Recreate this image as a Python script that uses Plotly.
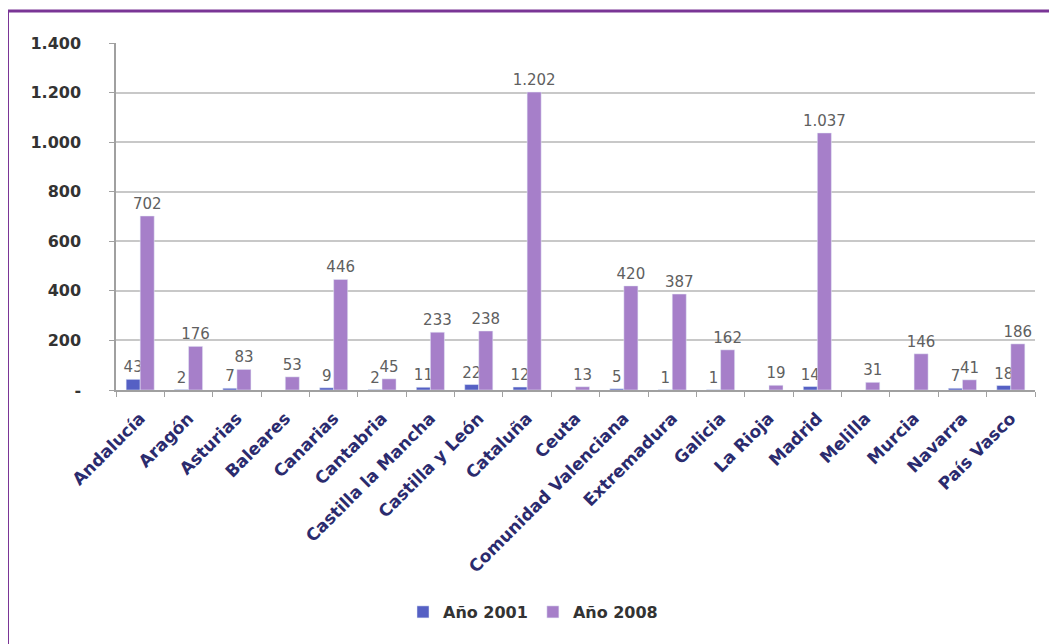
import plotly.graph_objects as go

categories = ["Andalucía", "Aragón", "Asturias", "Baleares", "Canarias", "Cantabria",
              "Castilla la Mancha", "Castilla y León", "Cataluña", "Ceuta",
              "Comunidad Valenciana", "Extremadura", "Galicia", "La Rioja", "Madrid",
              "Melilla", "Murcia", "Navarra", "País Vasco"]
anio_2001 = [43, 2, 7, None, 9, 2, 11, 22, 12, None, 5, 1, 1, None, 14, None, None, 7, 18]
anio_2008 = [702, 176, 83, 53, 446, 45, 233, 238, 1202, 13, 420, 387, 162, 19, 1037, 31, 146, 41, 186]
y_ticks = [0, 200, 400, 600, 800, 1000, 1200, 1400]
y_ticktext = ["-", "200", "400", "600", "800", "1.000", "1.200", "1.400"]

FONT = "DejaVu Sans"
label_font = dict(family=FONT, size=15, color="#606060")

fig = go.Figure()
fig.add_trace(go.Bar(
    name="Año 2001", x=categories, y=anio_2001,
    marker=dict(color="#5560c4"),
    texttemplate="%{y:,}", textposition="outside", textfont=label_font,
    constraintext="none", cliponaxis=False,
))
fig.add_trace(go.Bar(
    name="Año 2008", x=categories, y=anio_2008,
    marker=dict(color="#a67fc9"),
    texttemplate="%{y:,}", textposition="outside", textfont=label_font,
    constraintext="none", cliponaxis=False,
))

# page body has an 8px margin; target coordinates are measured in the screenshot
OFF = 8
W, H = 1057 - OFF, 644 - OFF
PL, PR, PT, PB = 116, 1035, 43, 390  # plot area in screenshot coordinates
L, R, T, B = PL - OFF, W - (PR - OFF), PT - OFF, H - (PB - OFF)
pw, ph = W - L - R, H - T - B

def px(x):
    return (x - PL) / pw

def py(y):
    return (PB - y) / ph

border = "#7a3596"
fig.add_shape(type="line", xref="paper", yref="paper", x0=px(7.5), x1=px(7.5), y0=py(700), y1=py(11),
              line=dict(color=border, width=3))
fig.add_shape(type="line", xref="paper", yref="paper", x0=px(6), x1=px(1100), y0=py(11), y1=py(11),
              line=dict(color=border, width=3))

fig.update_layout(
    width=W, height=H,
    margin=dict(l=L, r=R, t=T, b=B),
    paper_bgcolor="white", plot_bgcolor="white",
    separators=",.",
    barmode="group", bargap=0.42, bargroupgap=0.0,
    font=dict(family=FONT, color="#333333"),
    legend=dict(orientation="h", x=px(533), xanchor="center", y=py(612), yanchor="middle",
                font=dict(family=FONT, size=16, color="#333333", weight="bold"), itemwidth=30,
                traceorder="normal"),
    xaxis=dict(
        tickangle=-45, tickfont=dict(family=FONT, size=17, color="#2b2b6e", weight="bold"),
        showline=True, linecolor="#a0a0a0", linewidth=1.5,
        ticks="outside", tickson="boundaries", ticklen=5, tickcolor="#a0a0a0",
        showgrid=False, ticklabelstandoff=10,
    ),
    yaxis=dict(
        range=[0, 1400], tickvals=y_ticks, ticktext=y_ticktext,
        tickfont=dict(family=FONT, size=16, color="#333333", weight="bold"),
        showgrid=True, gridcolor="#c8c8c8", gridwidth=1.5,
        showline=True, linecolor="#a0a0a0", linewidth=1.5,
        ticks="outside", ticklen=5, tickcolor="#a0a0a0",
        zeroline=False, ticklabelstandoff=25,
    ),
)

fig.write_html("out.html")
